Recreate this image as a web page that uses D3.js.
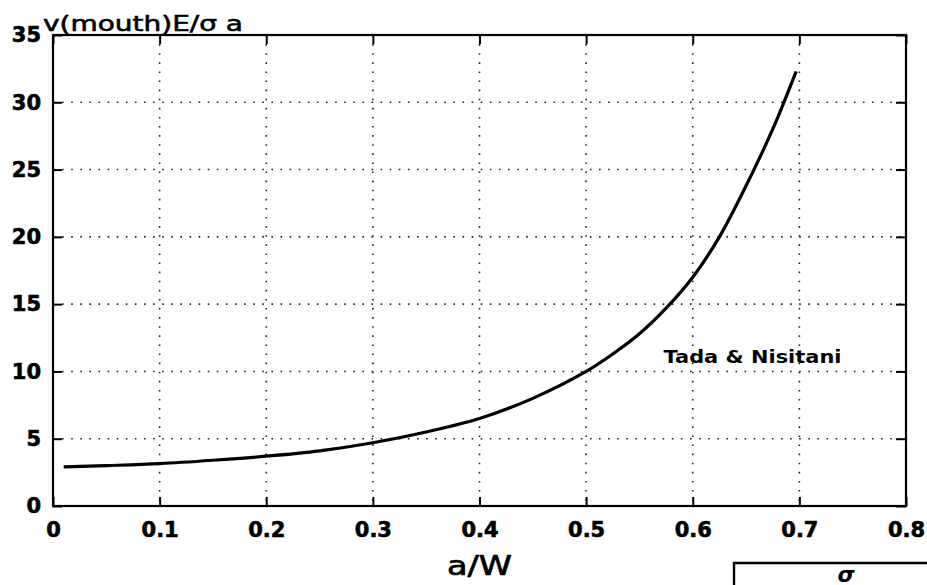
<!DOCTYPE html>
<html>
<head>
<meta charset="utf-8">
<script src="https://cdn.jsdelivr.net/npm/d3@7"></script>
<style>
  body { margin: 0; background: #fff; }
  svg { display: block; }
</style>
</head>
<body>
<div id="chart"></div>
<script>
// Tada & Nisitani curve
const aW = [0.01, 0.05, 0.1, 0.15, 0.2, 0.25, 0.3, 0.35, 0.4, 0.45, 0.5, 0.525, 0.55, 0.575, 0.6, 0.625, 0.65, 0.675, 0.697]
const vMouth = [2.9, 3.0, 3.15, 3.4, 3.7, 4.1, 4.7, 5.5, 6.5, 8.0, 10.0, 11.3, 12.8, 14.7, 17.0, 20.0, 23.8, 28.0, 32.3]
const xTicks = [0, 0.1, 0.2, 0.3, 0.4, 0.5, 0.6, 0.7, 0.8]
const yTicks = [0, 5, 10, 15, 20, 25, 30, 35]

const width = 927, height = 585
const margin = { top: 35, right: 21, bottom: 79, left: 53 }
const iw = width - margin.left - margin.right
const ih = height - margin.top - margin.bottom

const svg = d3.select('#chart').append('svg')
  .attr('width', width)
  .attr('height', height)

const g = svg.append('g')
  .attr('transform', `translate(${margin.left},${margin.top})`)

const x = d3.scaleLinear().domain([0, 0.8]).range([0, iw])
const y = d3.scaleLinear().domain([0, 35]).range([ih, 0])

// dotted grid
g.append('g').selectAll('line')
  .data(xTicks.slice(1, -1)).enter()
  .append('line')
  .attr('x1', d => x(d)).attr('x2', d => x(d))
  .attr('y1', 0).attr('y2', ih)
  .attr('stroke', '#222').attr('stroke-width', 1.6)
  .attr('stroke-dasharray', '1.6,7.5')

g.append('g').selectAll('line')
  .data(yTicks.slice(1, -1)).enter()
  .append('line')
  .attr('y1', d => y(d)).attr('y2', d => y(d))
  .attr('x1', 0).attr('x2', iw)
  .attr('stroke', '#222').attr('stroke-width', 1.6)
  .attr('stroke-dasharray', '1.6,7.5')

// axes, ticks pointing inward
const tickFont = sel => sel.selectAll('text')
  .attr('font-family', 'DejaVu Sans, sans-serif')
  .attr('font-weight', 'bold')
  .attr('font-size', 21)
  .attr('fill', '#000')
  .attr('stroke', '#000').attr('stroke-width', 0.6)

const xAxis = g.append('g')
  .attr('transform', `translate(0,${ih})`)
  .call(d3.axisBottom(x).tickValues(xTicks).tickFormat(d3.format('')).tickSizeInner(-9).tickSizeOuter(0).tickPadding(22))
xAxis.call(tickFont)
xAxis.selectAll('text').attr('dy', '0.45em')

const yAxis = g.append('g')
  .call(d3.axisLeft(y).tickValues(yTicks).tickSizeInner(-9).tickSizeOuter(0).tickPadding(12))
yAxis.call(tickFont)

g.append('g')
  .attr('transform', `translate(${iw},0)`)
  .call(d3.axisRight(y).tickValues(yTicks).tickFormat('').tickSizeInner(-10).tickSizeOuter(0))

g.append('g')
  .call(d3.axisTop(x).tickValues(xTicks).tickFormat('').tickSizeInner(-9).tickSizeOuter(0))

g.selectAll('.domain').remove()
g.selectAll('.tick line').attr('stroke', '#000').attr('stroke-width', 2)

g.append('rect')
  .attr('width', iw).attr('height', ih)
  .attr('fill', 'none')
  .attr('stroke', '#000').attr('stroke-width', 2.2)

// curve
const line = d3.line()
  .x((d, i) => x(aW[i]))
  .y(d => y(d))
  .curve(d3.curveCatmullRom.alpha(0.5))

g.append('path')
  .datum(vMouth)
  .attr('d', line)
  .attr('fill', 'none')
  .attr('stroke', '#000')
  .attr('stroke-width', 3.2)

g.append('text')
  .attr('x', x(0.656)).attr('y', y(10.65))
  .attr('text-anchor', 'middle')
  .attr('font-family', 'DejaVu Sans, sans-serif')
  .attr('font-weight', 'bold')
  .attr('font-size', 18)
  .attr('textLength', 178)
  .attr('lengthAdjust', 'spacingAndGlyphs')
  .text('Tada & Nisitani')

// titles
svg.append('text')
  .attr('x', 43).attr('y', 31)
  .attr('font-family', 'DejaVu Sans, sans-serif')
  .attr('font-size', 22)
  .attr('textLength', 200)
  .attr('lengthAdjust', 'spacingAndGlyphs')
  .attr('stroke', '#000').attr('stroke-width', 0.6)
  .text('v(mouth)E/σ a')

svg.append('text')
  .attr('x', margin.left + iw / 2).attr('y', 575)
  .attr('text-anchor', 'middle')
  .attr('font-family', 'DejaVu Sans, sans-serif')
  .attr('font-size', 27)
  .attr('textLength', 65)
  .attr('lengthAdjust', 'spacingAndGlyphs')
  .attr('stroke', '#000').attr('stroke-width', 0.7)
  .text('a/W')

// partial box cut off at the bottom right
svg.append('path')
  .attr('d', 'M734,585 V563 H927')
  .attr('fill', 'none')
  .attr('stroke', '#000').attr('stroke-width', 2.4)
svg.append('text')
  .attr('x', 846).attr('y', 582)
  .attr('text-anchor', 'middle')
  .attr('font-family', 'DejaVu Sans, sans-serif')
  .attr('font-style', 'italic')
  .attr('font-weight', 'bold')
  .attr('font-size', 22)
  .text('σ')
</script>
</body>
</html>
